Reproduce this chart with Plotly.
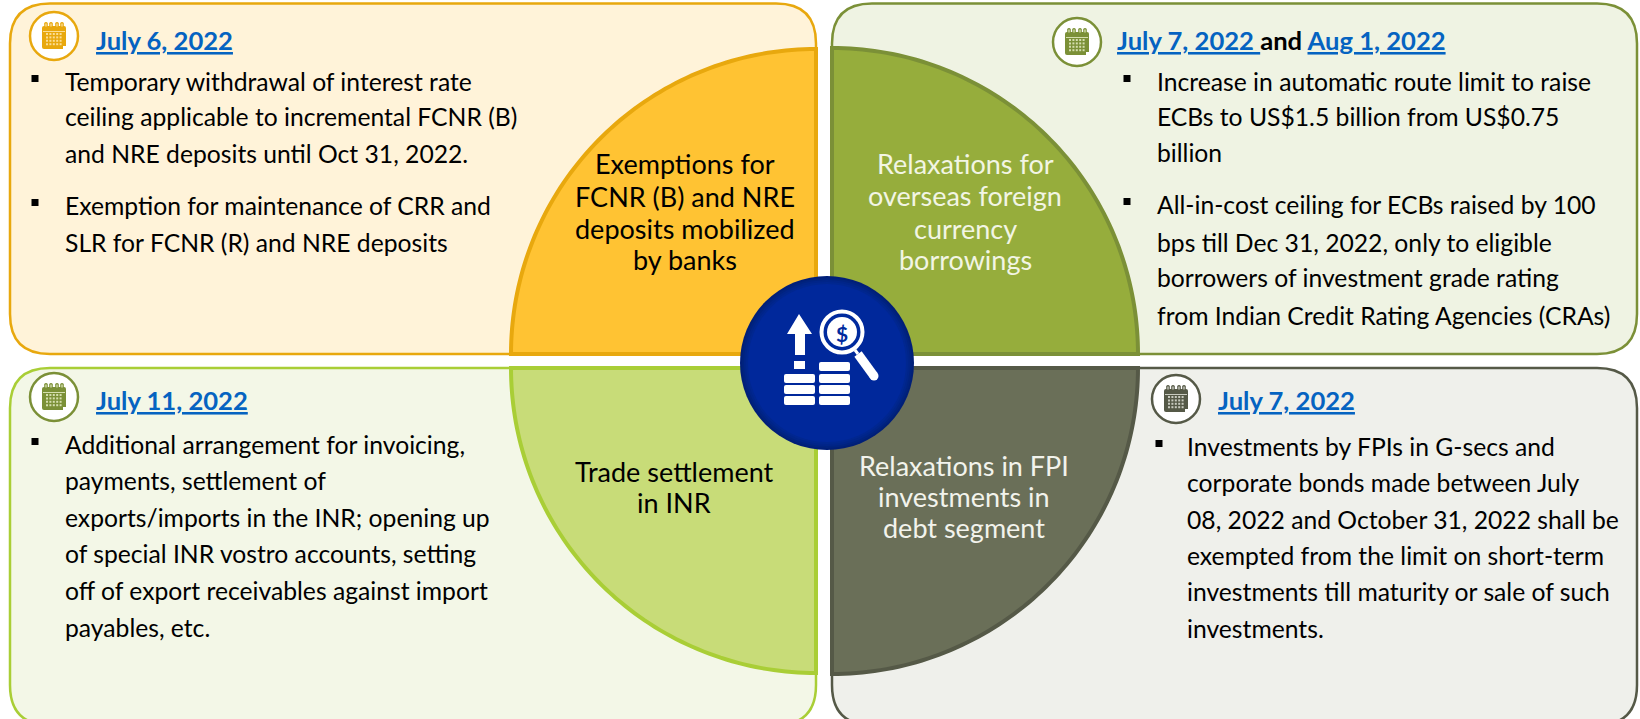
import numpy as np
import plotly.graph_objects as go

W, H = 1640, 719
FONT = "Lato"

# ---- content ----
tl_lines = ["Temporary withdrawal of interest rate",
            "ceiling applicable to incremental FCNR (B)",
            "and NRE deposits until Oct 31, 2022.",
            "Exemption for maintenance of CRR and",
            "SLR for FCNR (R) and NRE deposits"]
tr_lines = ["Increase in automatic route limit to raise",
            "ECBs to US$1.5 billion from US$0.75",
            "billion",
            "All-in-cost ceiling for ECBs raised by 100",
            "bps till Dec 31, 2022, only to eligible",
            "borrowers of investment grade rating",
            "from Indian Credit Rating Agencies (CRAs)"]
bl_lines = ["Additional arrangement for invoicing,",
            "payments, settlement of",
            "exports/imports in the INR; opening up",
            "of special INR vostro accounts, setting",
            "off of export receivables against import",
            "payables, etc."]
br_lines = ["Investments by FPIs in G-secs and",
            "corporate bonds made between July",
            "08, 2022 and October 31, 2022 shall be",
            "exempted from the limit on short-term",
            "investments till maturity or sale of such",
            "investments."]
tl_head = "<u>July 6, 2022</u>"
tr_head = "<u>July 7, 2022 </u><span style='color:#000000'>and</span> <u>Aug 1, 2022</u>"
bl_head = "<u>July 11, 2022</u>"
br_head = "<u>July 7, 2022</u>"
tl_label = ["Exemptions for", "FCNR (B) and NRE", "deposits mobilized", "by banks"]
tr_label = ["Relaxations for", "overseas foreign", "currency", "borrowings"]
bl_label = ["Trade settlement", "in INR"]
br_label = ["Relaxations in FPI", "investments in", "debt segment"]

# ---- layout (pixels) ----
tl_y = [81, 116, 153, 205, 242]
tr_y = [81, 116, 152, 204, 242, 277, 315]
bl_y = [444, 480, 517, 553, 590, 627]
br_y = [446, 482, 519, 555, 591, 628]
tl_lab_y = [163, 196, 228, 259]
tr_lab_y = [163, 195, 228, 259]
bl_lab_y = [471, 502]
br_lab_y = [465, 496, 527]

BODY = 24.7
HEAD = 25.6
LABEL = 27
C_BLUE = "#0563C1"
shapes, ann = [], []


def rrect(x0, y0, x1, y1, r, fill, line, lw=2.5):
    p = (f"M{x0+r},{y0} L{x1-r},{y0} Q{x1},{y0} {x1},{y0+r} L{x1},{y1-r} Q{x1},{y1} {x1-r},{y1} "
         f"L{x0+r},{y1} Q{x0},{y1} {x0},{y1-r} L{x0},{y0+r} Q{x0},{y0} {x0+r},{y0} Z")
    shapes.append(dict(type="path", path=p, fillcolor=fill, line=dict(color=line, width=lw), layer="below"))


def quarter(cx, cy, r, a0, a1, fill, line, lw=4):
    t = np.radians(np.linspace(a0, a1, 80))
    pts = [f"{cx + r*np.cos(a):.2f},{cy - r*np.sin(a):.2f}" for a in t]
    p = f"M{cx},{cy} L" + " L".join(pts) + " Z"
    shapes.append(dict(type="path", path=p, fillcolor=fill, line=dict(color=line, width=lw), layer="below"))


def circle(cx, cy, r, fill, line=None, lw=0):
    shapes.append(dict(type="circle", x0=cx-r, x1=cx+r, y0=cy-r, y1=cy+r, fillcolor=fill,
                       line=dict(color=line or fill, width=lw), layer="above"))


def rect(x0, y0, x1, y1, fill):
    shapes.append(dict(type="rect", x0=x0, x1=x1, y0=y0, y1=y1, fillcolor=fill,
                       line=dict(width=0), layer="above"))


def rrfill(x0, y0, x1, y1, r, fill):
    p = (f"M{x0+r},{y0} L{x1-r},{y0} Q{x1},{y0} {x1},{y0+r} L{x1},{y1-r} Q{x1},{y1} {x1-r},{y1} "
         f"L{x0+r},{y1} Q{x0},{y1} {x0},{y1-r} L{x0},{y0+r} Q{x0},{y0} {x0+r},{y0} Z")
    shapes.append(dict(type="path", path=p, fillcolor=fill, line=dict(width=0), layer="above"))


def text(x, y, s, size=23, color="#000000", anchor="left", bold=False):
    ann.append(dict(x=x, y=y, xref="x", yref="y", text=f"<b>{s}</b>" if bold else s, showarrow=False,
                    xanchor=anchor, yanchor="middle", align=anchor,
                    font=dict(family=FONT, size=size, color=color)))


def bullets(xb, xt, ys, lines, starts, size=BODY):
    for y, s in zip(ys, lines):
        text(xt, y, s, size=size)
    for y in starts:
        rect(xb-3.5, y-6, xb+3.5, y+1, "#000000")


def calendar(cx, cy, col, dots, bg="#FFFFFF"):
    circle(cx, cy, 24, bg, col, 2.5)
    rrfill(cx-12, cy-10, cx+12, cy+13, 2, col)
    rect(cx-11, cy-5, cx+11, cy-4, dots)
    for dx in (-8, -3, 3, 8):
        rrfill(cx+dx-1.8, cy-14, cx+dx+1.8, cy-8, 1.6, col)
        rect(cx+dx-0.7, cy-12.5, cx+dx+0.7, cy-9.5, dots)
    for r_ in range(4):
        for c_ in range(5):
            x = cx-7+c_*3.4
            y = cy-2+r_*3.4
            rect(x-1, y-1, x+1, y+1, dots)
    rect(cx+9, cy+10, cx+12, cy+13, bg)


# ---- panels ----
rrect(10, 3.5, 816, 354, 40, "#FFF3D9", "#E8A80E")
rrect(832, 3.5, 1637, 354, 40, "#EFF3E3", "#7B9037")
rrect(10, 368, 816, 725, 40, "#F3F7E7", "#A9CE36")
rrect(832, 368, 1637, 725, 40, "#EFF0EB", "#555947")

# ---- quarter discs ----
quarter(816, 354, 305, 90, 180, "#FFC333", "#E8A80E")
quarter(832, 354, 306, 0, 90, "#96AD3C", "#7B9037")
quarter(816, 368, 305, 180, 270, "#C8DC78", "#A9CE36")
quarter(832, 368, 306, 270, 360, "#6A6F58", "#555947")

# ---- text ----
calendar(54, 36, "#E8A80E", "#FBDD94")
calendar(1077, 42, "#7B9037", "#D5DEAE")
calendar(54, 397, "#7B9037", "#D5DEAE")
calendar(1176, 399, "#555947", "#C9CBC0")

text(94, 40, tl_head, size=HEAD, color=C_BLUE, bold=True)
text(1115, 40, tr_head, size=HEAD, color=C_BLUE, bold=True)
text(94, 400, bl_head, size=HEAD, color=C_BLUE, bold=True)
text(1216, 400, br_head, size=HEAD, color=C_BLUE, bold=True)

bullets(35, 63, tl_y, tl_lines, [tl_y[0], tl_y[3]])
bullets(1127, 1155, tr_y, tr_lines, [tr_y[0], tr_y[3]])
bullets(35, 63, bl_y, bl_lines, [bl_y[0]])
bullets(1159, 1185, br_y, br_lines, [br_y[0]])

for y, s in zip(tl_lab_y, tl_label):
    text(685, y, s, size=LABEL, anchor="center")
for y, s in zip(tr_lab_y, tr_label):
    text(965, y, s, size=LABEL, color="#F2F5E4", anchor="center")
for y, s in zip(bl_lab_y, bl_label):
    text(674, y, s, size=LABEL, anchor="center")
for y, s in zip(br_lab_y, br_label):
    text(964, y, s, size=LABEL, color="#F2F3EC", anchor="center")

# ---- centre badge ----
CX, CY = 827, 363
for r_, col in zip([87, 85, 83, 81, 79], ["#001F78", "#00237F", "#002589", "#002790", "#00289B"]):
    circle(CX, CY, r_, col)
W_ = "#FFFFFF"
# arrow
shapes.append(dict(type="path", path="M799,314 L787,334 L795,334 L795,355 L805,355 L805,334 L812,334 Z",
                   fillcolor=W_, line=dict(width=0), layer="above"))
rect(794, 361, 805, 369, W_)
for y in (374, 385, 396):
    rrfill(784, y, 815, y+9, 2, W_)
for y in (362, 374, 385, 396):
    rrfill(819, y, 850, y+9, 2, W_)
# magnifier
circle(842, 332, 20.5, "#002A9E", W_, 4)
circle(842, 332, 15, W_)
text(842, 333, "<b>$</b>", size=21, color="#002A9E", anchor="center")
shapes.append(dict(type="line", x0=855, y0=350, x1=858, y1=354, line=dict(color=W_, width=3), layer="above"))
shapes.append(dict(type="line", x0=858, y0=354, x1=874, y1=376, line=dict(color=W_, width=9), layer="above"))
circle(874, 376, 4.5, W_)

fig = go.Figure()
fig.update_layout(
    width=W, height=H, margin=dict(l=0, r=0, t=0, b=0),
    paper_bgcolor="#FFFFFF", plot_bgcolor="#FFFFFF",
    xaxis=dict(range=[0, W], visible=False, fixedrange=True),
    yaxis=dict(range=[H, 0], visible=False, fixedrange=True),
    shapes=shapes, annotations=ann, showlegend=False,
)
fig.write_html("out.html", config={"displayModeBar": False},
               post_script="document.body.style.margin='0';")
